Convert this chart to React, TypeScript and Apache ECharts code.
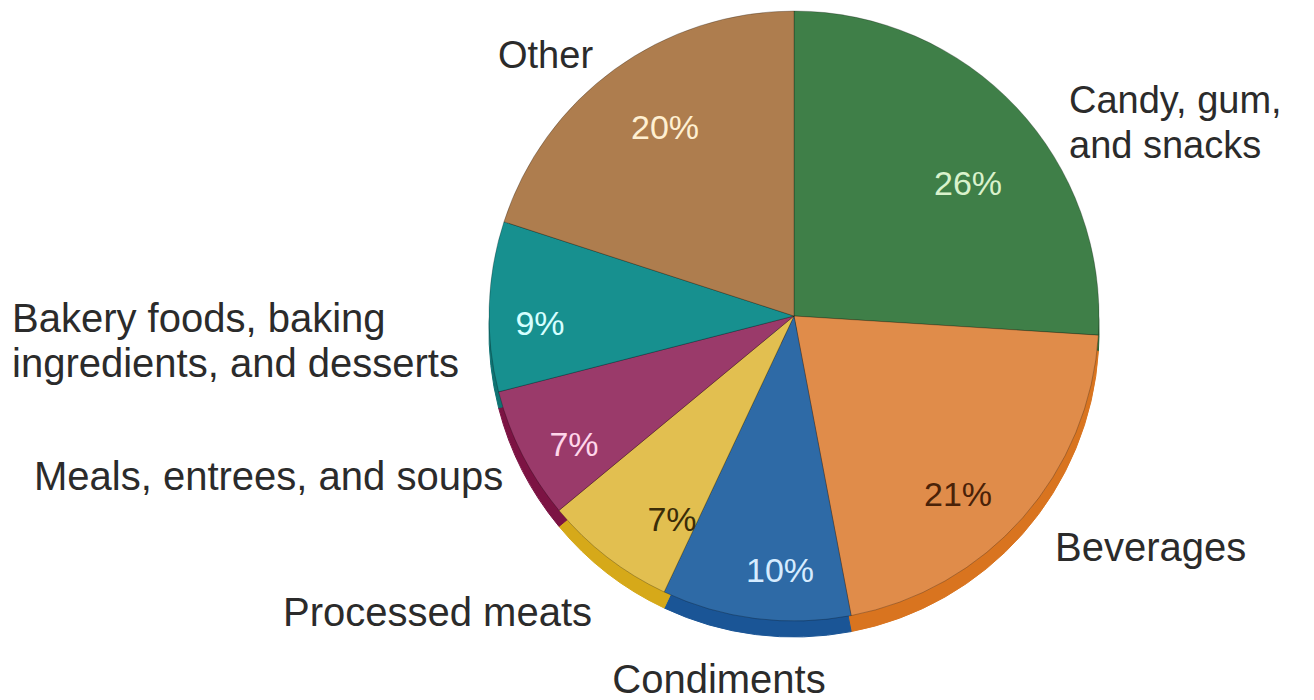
import React, { useEffect, useRef } from "react";
import * as echarts from "echarts";

const categories = [
  "Candy, gum,\nand snacks",
  "Beverages",
  "Condiments",
  "Processed meats",
  "Meals, entrees, and soups",
  "Bakery foods, baking\ningredients, and desserts",
  "Other",
];
const shares = [26, 21, 10, 7, 7, 9, 20];

const faceColors = ["#3f7f48", "#e08c4a", "#2e6aa6", "#e2bf50", "#9a3a6a", "#17908f", "#ae7d4e"];
const rimColors = ["#2c6636", "#d9741f", "#1a5596", "#d6a919", "#7c1343", "#0f7373", "#8f6236"];
const pctColors = ["#d9f2cc", "#4a2208", "#d6ecff", "#3a2c08", "#ffd6ea", "#d6ffff", "#fff0d2"];

// label anchor positions (px) for the percent text and the outer category names
const pctPos = [
  [968, 183],
  [958, 494],
  [780, 570],
  [672, 519],
  [574, 444],
  [540, 323],
  [665, 127],
];
const namePos: [number, number, string, number][] = [
  [1069, 122, "left", 38],
  [1055, 547, "left", 40],
  [719, 679, "center", 40],
  [283, 612, "left", 40],
  [34, 476, "left", 40],
  [12, 340, "left", 40],
  [498, 55, "left", 38],
];

const CX = 794;
const CY = 316;
const R = 305;
const RIM = 16;

export default function App() {
  const ref = useRef<HTMLDivElement>(null);
  useEffect(() => {
    if (!ref.current) return;
    const chart = echarts.init(ref.current, undefined, { renderer: "svg" });
    const base = {
      type: "pie",
      radius: R,
      startAngle: 90,
      clockwise: true,
      avoidLabelOverlap: false,
      animation: false,
    };
    chart.setOption({
      animation: false,
      backgroundColor: "#ffffff",
      series: [
        {
          ...base,
          name: "rim",
          center: [CX, CY + RIM],
          silent: true,
          label: { show: false },
          labelLine: { show: false },
          data: shares.map((v, i) => ({
            value: v,
            name: categories[i],
            itemStyle: { color: rimColors[i], borderColor: rimColors[i], borderWidth: 1 },
          })),
        },
        {
          ...base,
          name: "face",
          center: [CX, CY],
          label: {
            show: true,
            position: "inside",
            formatter: "{c}%",
            fontFamily: "Liberation Sans, Arial, sans-serif",
            fontSize: 34,
          },
          labelLine: { show: false },
          labelLayout: (p: any) => ({
            x: pctPos[p.dataIndex][0],
            y: pctPos[p.dataIndex][1],
            align: "center",
            verticalAlign: "middle",
          }),
          data: shares.map((v, i) => ({
            value: v,
            name: categories[i],
            itemStyle: {
              color: faceColors[i],
              borderColor: "rgba(0,0,0,0.25)",
              borderWidth: 1,
            },
            label: { color: pctColors[i] },
          })),
        },
        {
          ...base,
          name: "names",
          center: [CX, CY],
          silent: true,
          label: {
            show: true,
            position: "outside",
            formatter: "{b}",
            color: "#2b2b2b",
            fontFamily: "Liberation Sans, Arial, sans-serif",
            fontSize: 40,
            lineHeight: 45,
          },
          labelLine: { show: false },
          labelLayout: (p: any) => ({
            x: namePos[p.dataIndex][0],
            y: namePos[p.dataIndex][1],
            align: namePos[p.dataIndex][2],
            verticalAlign: "middle",
            fontSize: namePos[p.dataIndex][3],
          }),
          itemStyle: { color: "rgba(0,0,0,0)" },
          data: shares.map((v, i) => ({
            value: v,
            name: categories[i],
            label: { fontSize: namePos[i][3] },
          })),
        },
      ],
    });
    return () => chart.dispose();
  }, []);
  return (
    <div
      ref={ref}
      style={{ position: "fixed", left: 0, top: 0, width: 1314, height: 700 }}
    />
  );
}
